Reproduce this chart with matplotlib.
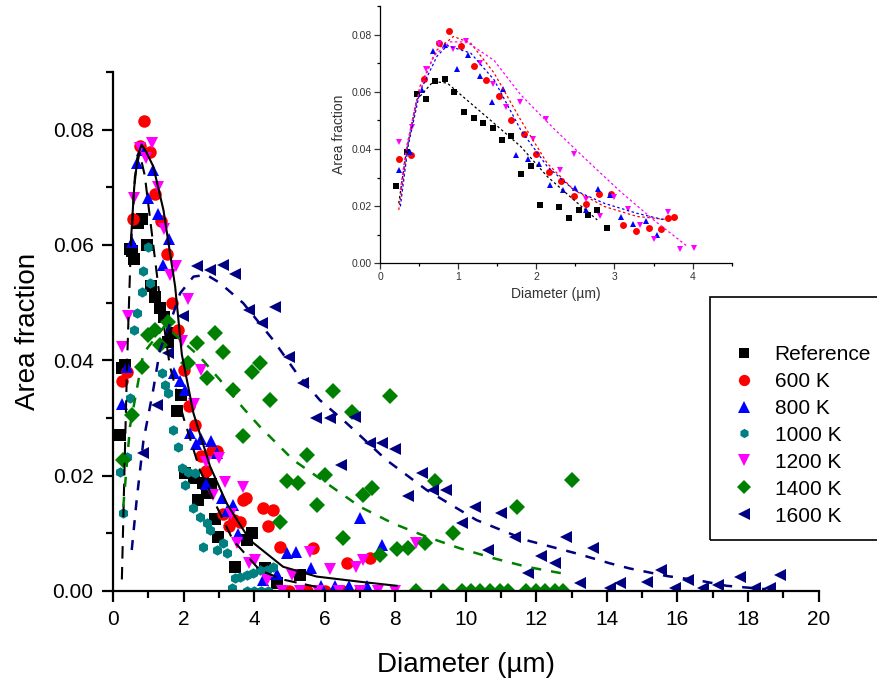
import matplotlib
matplotlib.use('Agg')
import matplotlib.pyplot as plt
from matplotlib.patches import Rectangle

plt.rcParams['font.family'] = ['Liberation Sans', 'DejaVu Sans']

# ---- main chart data (diameter in um, area fraction) ----
refX = [0.21, 0.25, 0.34, 0.47, 0.53, 0.59, 0.71, 0.83, 0.95, 1.08, 1.2, 1.32, 1.44, 1.56, 1.68, 1.8, 1.93,
        2.05, 2.29, 2.42, 2.54, 2.66, 2.78, 2.9, 2.98, 3.46, 3.79, 3.93, 4.3, 4.64, 5.3]
refY = [0.0271, 0.0386, 0.0391, 0.0593, 0.0589, 0.0576, 0.0638, 0.0645, 0.060, 0.0529, 0.0509, 0.049, 0.0475,
        0.0431, 0.0447, 0.0312, 0.0339, 0.0204, 0.0196, 0.0158, 0.0187, 0.0169, 0.0185, 0.0125, 0.0094, 0.0042,
        0.0088, 0.010, 0.004, 0.0013, 0.0028]

k600X = [0.24, 0.4, 0.56, 0.75, 0.88, 1.04, 1.2, 1.36, 1.52, 1.68, 1.84, 2.0, 2.16, 2.32, 2.48, 2.64, 2.8, 2.95,
         3.11, 3.28, 3.44, 3.59, 3.69, 3.76, 4.26, 4.4, 4.54, 4.73, 5.67, 6.62, 7.28, 5.0, 5.5, 6.0, 6.5, 7.0]
k600Y = [0.0364, 0.038, 0.0645, 0.0771, 0.0814, 0.0761, 0.0689, 0.0642, 0.0584, 0.050, 0.0453, 0.0383, 0.0321,
         0.0288, 0.0234, 0.0208, 0.0242, 0.0243, 0.0134, 0.0113, 0.0123, 0.0119, 0.0158, 0.0161, 0.0143, 0.0112,
         0.014, 0.0077, 0.0074, 0.0049, 0.0057, 0.0, 0.0, 0.0, 0.0, 0.0]

k800X = [0.24, 0.39, 0.54, 0.68, 0.83, 0.98, 1.13, 1.28, 1.43, 1.58, 1.74, 1.89, 2.04, 2.18, 2.34, 2.49, 2.64,
         2.79, 2.94, 3.09, 3.24, 3.4, 3.55, 4.26, 4.35, 4.64, 4.92, 5.2, 5.6, 5.9, 6.3, 6.7, 7.0, 7.2, 7.61]
k800Y = [0.0325, 0.0388, 0.0605, 0.0742, 0.0765, 0.0681, 0.073, 0.0654, 0.0565, 0.061, 0.0378, 0.0364, 0.0348,
         0.0273, 0.0255, 0.0263, 0.0185, 0.026, 0.0239, 0.0161, 0.0138, 0.0149, 0.0099, 0.0019, 0.003, 0.003,
         0.0065, 0.0068, 0.0039, 0.0008, 0.0008, 0.0008, 0.0126, 0.0008, 0.008]

k1000X = [0.2, 0.29, 0.39, 0.48, 0.58, 0.67, 0.81, 0.86, 1.0, 1.05, 1.38, 1.47, 1.57, 1.71, 1.85, 1.95, 2.04,
          2.13, 2.28, 2.32, 2.46, 2.56, 2.65, 2.75, 2.94, 3.12, 3.22, 3.36, 3.46, 3.6, 3.79, 3.97, 4.16, 4.35,
          4.54, 3.8, 4.0, 4.2, 4.4]
k1000Y = [0.0207, 0.0135, 0.0233, 0.0334, 0.0453, 0.0482, 0.0519, 0.0554, 0.0597, 0.0534, 0.0378, 0.0357,
          0.0343, 0.0279, 0.025, 0.0213, 0.0184, 0.0207, 0.0143, 0.0204, 0.0129, 0.0077, 0.0117, 0.0106, 0.0071,
          0.0083, 0.0065, 0.0005, 0.0022, 0.0025, 0.0028, 0.0031, 0.0036, 0.0036, 0.0042, 0.0, 0.0, 0.0, 0.0]

k1200X = [0.24, 0.41, 0.59, 0.76, 0.93, 1.1, 1.28, 1.45, 1.61, 1.79, 1.96, 2.13, 2.3, 2.48, 2.64, 2.82, 2.99,
          3.17, 3.33, 3.5, 3.68, 3.84, 4.02, 4.35, 5.06, 5.58, 6.15, 6.9, 7.09, 8.6, 4.8, 5.3, 5.8, 6.4, 7.0,
          7.5, 8.0]
k1200Y = [0.0423, 0.0476, 0.0681, 0.0768, 0.0751, 0.0777, 0.0701, 0.0628, 0.0547, 0.0564, 0.0434, 0.0506,
          0.0325, 0.0383, 0.0224, 0.0167, 0.0231, 0.0189, 0.0134, 0.0084, 0.0181, 0.0049, 0.0053, 0.0019, 0.0028,
          0.0068, 0.0038, 0.0042, 0.0054, 0.0083, 0.0, 0.0, 0.0, 0.0, 0.0, 0.0, 0.0]

k1400X = [0.29, 0.53, 0.81, 1.0, 1.19, 1.33, 1.57, 2.13, 2.37, 2.65, 2.89, 3.12, 3.41, 3.69, 3.93, 4.16, 4.45,
          4.73, 4.92, 5.25, 5.49, 5.77, 6.0, 6.24, 6.52, 6.76, 7.09, 7.33, 7.56, 7.85, 8.04, 8.37, 8.84, 9.12,
          9.64, 11.44, 13.01, 8.6, 9.36, 9.88, 10.16, 10.4, 10.68, 10.96, 11.2, 11.72, 12.0, 12.24, 12.52, 12.76]
k1400Y = [0.0227, 0.0305, 0.0389, 0.0444, 0.0453, 0.0427, 0.0467, 0.0395, 0.043, 0.0369, 0.0447, 0.0415,
          0.0349, 0.0268, 0.038, 0.0395, 0.0331, 0.012, 0.019, 0.0187, 0.0236, 0.0149, 0.0201, 0.0346, 0.0091,
          0.031, 0.0167, 0.0178, 0.0062, 0.0338, 0.0072, 0.0074, 0.0084, 0.019, 0.0101, 0.0146, 0.0193, 0.0,
          0.0, 0.0, 0.0, 0.0, 0.0, 0.0, 0.0, 0.0, 0.0, 0.0, 0.0, 0.0]

k1600X = [0.86, 1.24, 1.57, 1.99, 2.37, 2.75, 3.12, 3.46, 3.85, 4.23, 4.59, 5.0, 5.39, 5.75, 6.15, 6.45, 6.86,
          7.28, 7.61, 7.99, 8.37, 8.75, 9.08, 9.45, 9.88, 10.25, 10.63, 11.01, 11.39, 11.77, 12.14, 12.52, 12.85,
          13.23, 13.61, 14.08, 14.36, 15.15, 15.54, 15.92, 16.3, 16.72, 17.15, 17.76, 18.19, 18.61, 18.9]
k1600Y = [0.0239, 0.0323, 0.0412, 0.0476, 0.0563, 0.0557, 0.0565, 0.055, 0.0487, 0.0465, 0.0493, 0.0405,
          0.036, 0.030, 0.030, 0.0219, 0.0301, 0.0256, 0.0256, 0.0246, 0.0165, 0.0204, 0.0175, 0.0175, 0.0117,
          0.0146, 0.0071, 0.0136, 0.0094, 0.0031, 0.006, 0.0049, 0.0094, 0.0013, 0.0074, 0.0005, 0.0013, 0.0016,
          0.0036, 0.0005, 0.0019, 0.0005, 0.001, 0.0025, 0.0005, 0.0005, 0.0028]

# fitted curves
fitSolidX = [0.5, 0.6, 0.7, 0.81, 0.95, 1.14, 1.43, 1.76, 1.95, 2.28, 2.75, 3.22, 3.88, 4.82, 5.77, 7.0, 8.04]
fitSolidY = [0.060, 0.070, 0.0755, 0.0774, 0.076, 0.0736, 0.066, 0.0528, 0.041, 0.0308, 0.0216, 0.0152,
             0.0088, 0.0042, 0.0025, 0.0016, 0.0009]
fitDashX = [0.25, 0.32, 0.4, 0.5, 0.62, 0.75, 0.9, 1.1, 1.3, 1.61, 2.0, 2.46, 2.94, 3.4, 4.16, 4.8, 5.77]
fitDashY = [0.002, 0.02, 0.040, 0.059, 0.0719, 0.076, 0.072, 0.062, 0.052, 0.039, 0.030, 0.021, 0.0146,
            0.0088, 0.0036, 0.002, 0.0007]
fit1400X = [0.29, 0.48, 0.86, 1.47, 2.46, 3.03, 3.69, 4.16, 5.11, 6.05, 7.0, 7.94, 8.89, 9.83, 10.77, 11.72, 12.95]
fit1400Y = [0.0146, 0.0285, 0.0412, 0.046, 0.0406, 0.0366, 0.0317, 0.0285, 0.0227, 0.0187, 0.0146, 0.0117,
            0.0094, 0.0074, 0.0057, 0.0042, 0.0028]
fit1600X = [0.53, 0.67, 0.86, 1.14, 1.33, 1.52, 1.9, 2.28, 2.65, 3.03, 3.69, 4.54, 5.2, 5.86, 6.62, 7.75, 8.89,
            10.3, 11.72, 13.14, 14.08, 14.65, 15.69, 16.63, 17.39, 18.52]
fit1600Y = [0.0071, 0.0158, 0.026, 0.0349, 0.0418, 0.0447, 0.0516, 0.0545, 0.0548, 0.0534, 0.0499, 0.0435,
            0.0378, 0.0331, 0.0291, 0.0227, 0.0175, 0.0123, 0.0088, 0.0065, 0.0048, 0.0039, 0.0026, 0.0018,
            0.0009, 0.0003]

# ---- inset data ----
inRefX = [0.21, 0.34, 0.47, 0.59, 0.71, 0.83, 0.95, 1.08, 1.2, 1.32, 1.44, 1.56, 1.68, 1.8, 1.93, 2.05, 2.29,
          2.42, 2.54, 2.66, 2.78, 2.9]
inRefY = [0.0271, 0.0391, 0.0593, 0.0576, 0.0638, 0.0645, 0.060, 0.0529, 0.0509, 0.049, 0.0475, 0.0431, 0.0447,
          0.0312, 0.0339, 0.0204, 0.0196, 0.0158, 0.0187, 0.0169, 0.0185, 0.0125]
in600X = k600X[:24]
in600Y = k600Y[:24]
in800X = k800X[:23]
in800Y = k800Y[:23]
in1200X = k1200X[:23]
in1200Y = k1200Y[:23]

inFitRefX = [0.24, 0.34, 0.47, 0.68, 0.86, 1.11, 1.46, 1.8, 2.14, 2.48, 2.78]
inFitRefY = [0.021, 0.0397, 0.0572, 0.0636, 0.0631, 0.0572, 0.049, 0.0409, 0.0304, 0.0222, 0.0152]
inFit600X = [0.24, 0.36, 0.51, 0.73, 0.94, 1.16, 1.46, 1.8, 2.14, 2.48, 2.87, 3.29, 3.72]
inFit600Y = [0.0187, 0.042, 0.0619, 0.0747, 0.0794, 0.0771, 0.0666, 0.0502, 0.035, 0.0257, 0.0199, 0.0164, 0.0152]
inFit800X = [0.26, 0.36, 0.51, 0.73, 0.86, 1.16, 1.46, 1.8, 2.14, 2.48, 2.87, 3.29, 3.64]
inFit800Y = [0.0199, 0.041, 0.060, 0.0725, 0.0762, 0.0736, 0.0642, 0.0467, 0.0339, 0.0257, 0.021, 0.0175, 0.0152]
inFit1200X = [0.26, 0.34, 0.47, 0.68, 0.9, 1.11, 1.46, 1.8, 2.23, 2.65, 3.08, 3.51, 3.94]
inFit1200Y = [0.0257, 0.0409, 0.0572, 0.0724, 0.0775, 0.0775, 0.071, 0.059, 0.047, 0.036, 0.025, 0.015, 0.0058]

labels = ['Reference', '600 K', '800 K', '1000 K', '1200 K', '1400 K', '1600 K']
colors = ['black', '#FF0000', '#0000FF', '#008080', '#FF00FF', '#008000', '#000080']
markers = ['s', 'o', '^', 'h', 'v', 'D', '<']
sizes = [8, 9, 9, 7.5, 9, 8, 9]

fig = plt.figure(figsize=(8.77, 6.84), dpi=100)
ax = fig.add_axes([0.1289, 0.136, 0.8045, 0.759])

allX = [refX, k600X, k800X, k1000X, k1200X, k1400X, k1600X]
allY = [refY, k600Y, k800Y, k1000Y, k1200Y, k1400Y, k1600Y]
handles = []
for i in range(7):
    h, = ax.plot(allX[i], allY[i], linestyle='none', marker=markers[i], color=colors[i],
                 markersize=sizes[i], markeredgewidth=0, label=labels[i])
    handles.append(h)

ax.plot(fitSolidX, fitSolidY, color='black', lw=1.5)
ax.plot(fitDashX, fitDashY, color='black', lw=1.5, ls=(0, (6, 4)))
ax.plot(fit1400X, fit1400Y, color='#008000', lw=1.8, ls=(0, (4, 4)))
ax.plot(fit1600X, fit1600Y, color='#000080', lw=1.8, ls=(0, (4, 4)))

ax.set_xlim(0, 20)
ax.set_ylim(0, 0.09)
ax.set_xticks(range(0, 21, 2))
ax.set_xticks(range(1, 20, 2), minor=True)
ax.set_yticks([0, 0.02, 0.04, 0.06, 0.08])
ax.set_yticks([0.01, 0.03, 0.05, 0.07, 0.09], minor=True)
ax.set_yticklabels(['0.00', '0.02', '0.04', '0.06', '0.08'])
for s in ['top', 'right']:
    ax.spines[s].set_visible(False)
for s in ['left', 'bottom']:
    ax.spines[s].set_linewidth(1.6)
ax.tick_params(which='major', direction='out', length=8, width=1.6, labelsize=15, pad=6)
ax.tick_params(which='minor', direction='out', length=5, width=1.6)
ax.set_xlabel('Diameter (µm)', fontsize=20, labelpad=16)
ax.set_ylabel('Area fraction', fontsize=20, labelpad=8)

# legend box runs off the right edge like in the original
fig.patches.append(Rectangle((710 / 877, 1 - 540 / 684), 0.3, (540 - 297) / 684, transform=fig.transFigure,
                             fill=False, edgecolor='black', lw=1.2))
fig.legend(handles=handles, loc='upper left', bbox_to_anchor=(734 / 877, 1 - 345 / 684), frameon=False,
           fontsize=15, handlelength=1.0, handletextpad=0.95, labelspacing=0.38, borderpad=0, borderaxespad=0,
           markerscale=0.9)

# inset
axi = fig.add_axes([0.4333, 0.615, 0.401, 0.376])
inX = [inRefX, in600X, in800X, in1200X]
inY = [inRefY, in600Y, in800Y, in1200Y]
inC = ['black', '#FF0000', '#0000FF', '#FF00FF']
inM = ['s', 'o', '^', 'v']
for i in range(4):
    axi.plot(inX[i], inY[i], linestyle='none', marker=inM[i], color=inC[i], markersize=5, markeredgewidth=0)
axi.plot(inFitRefX, inFitRefY, color='black', lw=0.9, ls=(0, (2, 2)))
axi.plot(inFit600X, inFit600Y, color='#FF0000', lw=0.9, ls=(0, (2, 2)))
axi.plot(inFit800X, inFit800Y, color='#0000FF', lw=0.9, ls=(0, (2, 2)))
axi.plot(inFit1200X, inFit1200Y, color='#FF00FF', lw=0.9, ls=(0, (2, 2)))
axi.set_xlim(0, 4.5)
axi.set_ylim(0, 0.09)
axi.set_xticks([0, 1, 2, 3, 4])
axi.set_xticks([0.5, 1.5, 2.5, 3.5, 4.5], minor=True)
axi.set_yticks([0, 0.02, 0.04, 0.06, 0.08])
axi.set_yticks([0.01, 0.03, 0.05, 0.07, 0.09], minor=True)
axi.set_yticklabels(['0.00', '0.02', '0.04', '0.06', '0.08'])
for s in ['top', 'right']:
    axi.spines[s].set_visible(False)
for s in ['left', 'bottom']:
    axi.spines[s].set_linewidth(0.9)
axi.tick_params(which='major', direction='out', length=4, width=0.9, labelsize=7.5, pad=2, colors='#333333')
axi.tick_params(which='minor', direction='out', length=2.5, width=0.9)
axi.set_xlabel('Diameter (µm)', fontsize=10, color='#333333', labelpad=4)
axi.set_ylabel('Area fraction', fontsize=10, color='#333333', labelpad=4)
axi.patch.set_alpha(0)

fig.savefig('out.png', dpi=100)
